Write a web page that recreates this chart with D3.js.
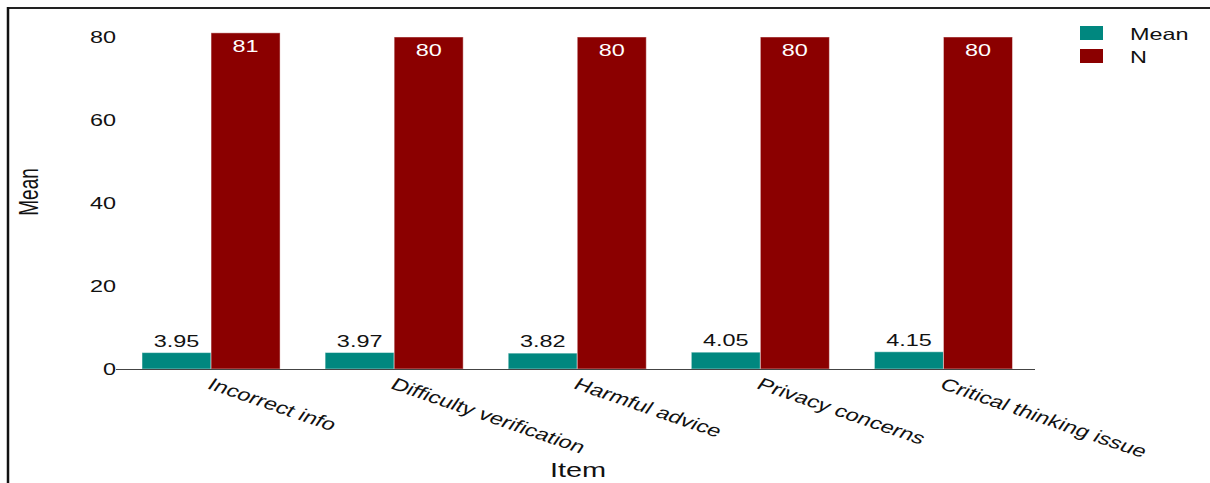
<!DOCTYPE html>
<html><head><meta charset="utf-8">
<script src="https://cdn.jsdelivr.net/npm/d3@7"></script>
<style>body{margin:0;background:#fff;} svg{display:block;font-family:"Liberation Sans",Arial,sans-serif;}</style>
</head><body>
<svg id="c" width="1210" height="483"></svg>
<script>
const categories = ["Incorrect info","Difficulty verification","Harmful advice","Privacy concerns","Critical thinking issue"];
const meanValues = [3.95, 3.97, 3.82, 4.05, 4.15];
const nValues = [81, 80, 80, 80, 80];
const seriesNames = ["Mean","N"];
const yTicks = [0,20,40,60,80];
const colors = {Mean:"#00877f", N:"#8b0000"};
const SX = 1.42; // horizontal stretch of the text in the reference

const svg = d3.select("#c");
// frame
svg.append("line").attr("x1",7).attr("x2",1210).attr("y1",8).attr("y2",8).attr("stroke","#222").attr("stroke-width",2);
svg.append("line").attr("x1",8).attr("x2",8).attr("y1",7).attr("y2",483).attr("stroke","#111").attr("stroke-width",2.5);

const x0 = d3.scaleBand().domain(categories).range([119.5,1035]).paddingInner(0.246).paddingOuter(0.123);
const x1 = d3.scaleBand().domain(seriesNames).range([0,x0.bandwidth()]);
const y = d3.scaleLinear().domain([0,80]).range([369,37]);

const data = categories.map((c,i)=>({cat:c, vals:[{k:"Mean",v:meanValues[i]},{k:"N",v:nValues[i]}]}));

const g = svg.append("g");
const grp = g.selectAll("g.grp").data(data).join("g").attr("transform",d=>`translate(${x0(d.cat)},0)`);
grp.selectAll("rect").data(d=>d.vals).join("rect")
  .attr("x",d=>x1(d.k)).attr("width",x1.bandwidth())
  .attr("y",d=>y(d.v)).attr("height",d=>y(0)-y(d.v))
  .attr("fill",d=>colors[d.k]).attr("stroke","rgba(255,255,255,0.45)").attr("stroke-width",1);
grp.selectAll("text.lab").data(d=>d.vals).join("text").attr("class","lab")
  .attr("transform",d=>`translate(${x1(d.k)+x1.bandwidth()/2},${d.k==="N"? y(d.v)+19 : y(d.v)-6}) scale(${SX},1)`)
  .attr("text-anchor","middle").attr("font-size",16.5)
  .attr("fill",d=>d.k==="N"?"#fff":"#111")
  .text(d=>d.k==="N"? d.v : d.v.toFixed(2));

// y axis labels
const ya = svg.append("g");
ya.selectAll("text").data(yTicks).join("text")
  .attr("transform",d=>`translate(116,${y(d)+6}) scale(${SX},1)`).attr("text-anchor","end").attr("font-size",16.5).attr("fill","#111").text(d=>d);
ya.append("line").attr("x1",116).attr("x2",120).attr("y1",y(0)+0.5).attr("y2",y(0)+0.5).attr("stroke","#444");
// x axis line
svg.append("line").attr("x1",119.5).attr("x2",1035).attr("y1",y(0)+0.5).attr("y2",y(0)+0.5).attr("stroke","#444").attr("stroke-width",1);
// x tick labels
svg.append("g").selectAll("text").data(categories).join("text")
  .attr("transform",d=>`translate(${x0(d)+x0.bandwidth()/2-5},${y(0)+19}) scale(${SX},1) rotate(26)`)
  .attr("font-size",17).attr("fill","#111").text(d=>d);
// axis titles
svg.append("text").attr("transform",`translate(578,477) scale(${SX*0.97},1)`).attr("text-anchor","middle").attr("font-size",21).attr("fill","#111").text("Item");
svg.append("text").attr("transform",`translate(38,192) scale(${SX},1) rotate(-90)`).attr("text-anchor","middle").attr("font-size",19).attr("fill","#111").text("Mean");
// legend
const lg = svg.append("g");
seriesNames.forEach((s,i)=>{
  lg.append("rect").attr("x",1080).attr("y",26+i*23).attr("width",23).attr("height",14).attr("fill",colors[s]);
  lg.append("text").attr("transform",`translate(1130,${40+i*23}) scale(${SX},1)`).attr("font-size",16.5).attr("fill","#111").text(s);
});
</script>
</body></html>
